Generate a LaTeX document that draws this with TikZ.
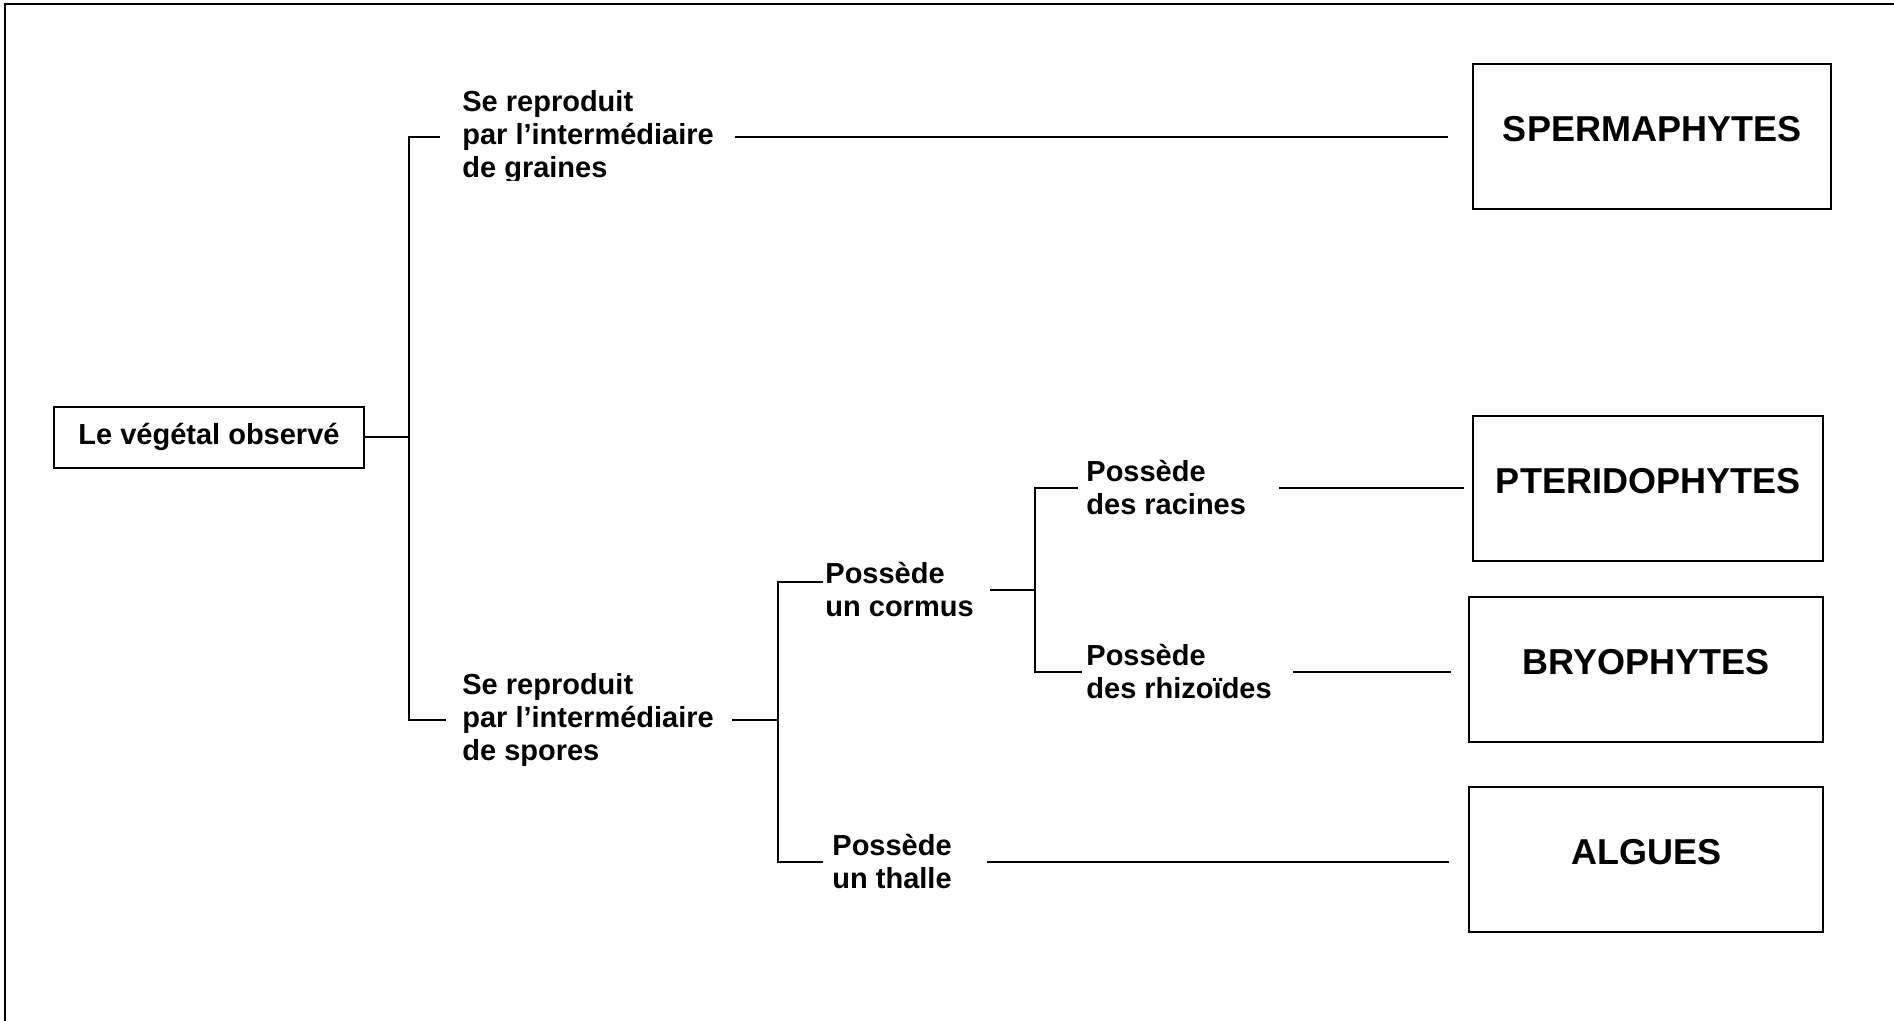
\documentclass[tikz,border=0pt]{standalone}
\usepackage{fontspec}
\setmainfont{Liberation Sans}

\begin{document}
\begin{tikzpicture}[x=0.5pt, y=-0.5pt,
  crit/.style={align=left, anchor=west, inner sep=0pt, font=\fontsize{14.5}{16.5}\selectfont\bfseries},
  taxon/.style={draw, line width=1.1pt, minimum height=72.5pt, text depth=8pt, font=\fontsize{18}{21}\selectfont\bfseries},
  link/.style={line width=1pt}]

\useasboundingbox (0,0) rectangle (1894,1021);
\draw [line width=1.2pt] (5,1021) -- (5,4) -- (1894,4);

\node [draw, line width=1pt, minimum width=155pt, minimum height=30.5pt, font=\fontsize{14.5}{16.5}\selectfont\bfseries] (obs) at (209,437) {Le végétal observé};

\node [taxon, minimum width=179pt] (sperm) at (1652,136.5) {SPERMAPHYTES};
\node [taxon, minimum width=175pt] (pter) at (1648,488.5) {PTERIDOPHYTES};
\node [taxon, minimum width=177pt] (bryo) at (1646,669.5) {BRYOPHYTES};
\node [taxon, minimum width=177pt] (alg) at (1646,859.5) {ALGUES};

\begin{scope}
\clip (0,0) rectangle (1894,181);
\node [crit] (grain) at (462,137) {Se reproduit\\par l’intermédiaire\\de graines};
\end{scope}
\node [crit] (spor) at (462,720) {Se reproduit\\par l’intermédiaire\\de spores};
\node [crit] (corm) at (825,590) {Possède\\un cormus};
\node [crit] (thal) at (832,862) {Possède\\un thalle};
\node [crit] (rac) at (1086,488) {Possède\\des racines};
\node [crit] (rhiz) at (1086,672) {Possède\\des rhizoïdes};

\coordinate (f1) at (409,437);
\coordinate (f2) at (778,713);
\coordinate (f3) at (1035,590);

\draw [link] (obs) -- (f1);
\draw [link] ([xshift=-11pt]grain.west) -- (grain.west -| f1) -- (spor.west -| f1) -- ([xshift=-8pt]spor.west);
\draw [link, shorten <=10.5pt, shorten >=12pt] (grain.east) -- (grain.east -| sperm.west);

\draw [link, shorten <=9pt] (spor.east) -- (spor.east -| f2);
\draw [link] ([xshift=-1pt, yshift=4pt]corm.west) -- ([yshift=4pt]corm.west -| f2) -- (thal.west -| f2) -- ([xshift=-4.5pt]thal.west);
\draw [link, shorten <=17.5pt, shorten >=9.5pt] (thal.east) -- (thal.east -| alg.west);

\draw [link, shorten <=8pt] (corm.east) -- (corm.east -| f3);
\draw [link] ([xshift=-4pt]rac.west) -- (rac.west -| f3) -- (rhiz.west -| f3) -- ([xshift=-2pt]rhiz.west);
\draw [link, shorten <=16.5pt, shorten >=4pt] (rac.east) -- (rac.east -| pter.west);
\draw [link, shorten <=10.5pt, shorten >=8.5pt] (rhiz.east) -- (rhiz.east -| bryo.west);

\end{tikzpicture}
\end{document}
